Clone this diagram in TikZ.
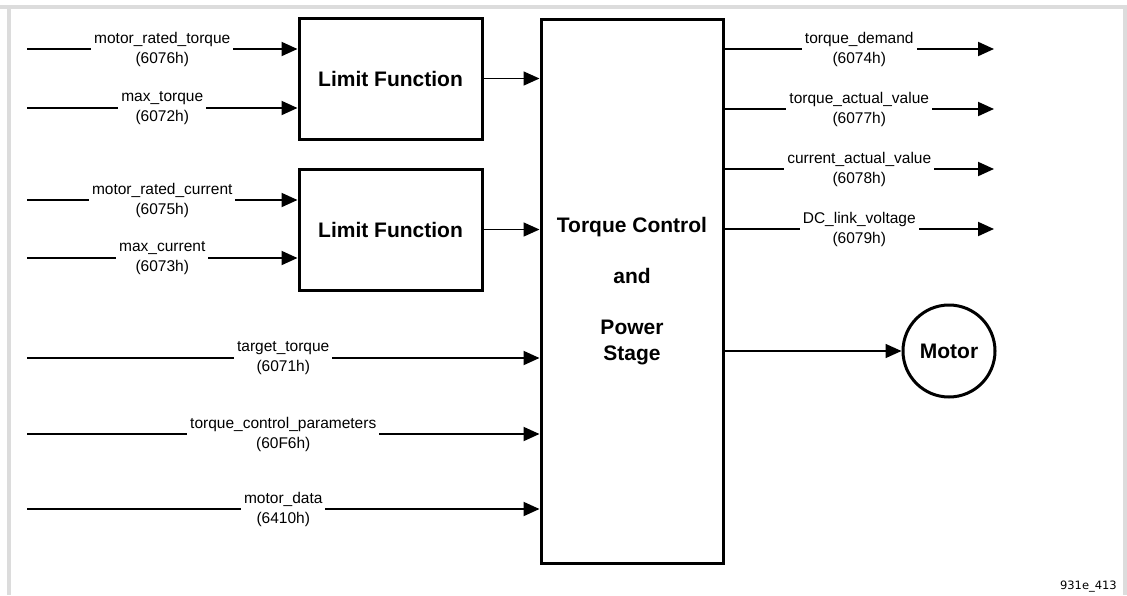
\documentclass[tikz,border=0pt]{standalone}
\usepackage{fontspec}
\setmainfont{Liberation Sans}
\newfontfamily\tagfont{DejaVu Sans}
\usetikzlibrary{arrows.meta}
\definecolor{framegray}{HTML}{DCDCDC}
\tikzset{
  sig/.style={line width=2pt, -{Triangle[length=16pt,width=14pt]}},
  sig2/.style={line width=1.6pt, -{Triangle[length=16pt,width=14pt]}},
  lbl/.style={fill=white, inner xsep=3pt, inner ysep=1pt, align=center,
    font=\fontsize{15.5}{20}\selectfont},
  fbox/.style={draw, line width=3pt, minimum width=183pt, minimum height=121pt,
    inner sep=0pt, align=center, font=\fontsize{21}{25.5}\selectfont\bfseries},
  bigbox/.style={draw, line width=3pt, minimum width=182pt, minimum height=544pt,
    inner sep=0pt, align=center, font=\fontsize{21}{25.5}\selectfont\bfseries},
  motorc/.style={draw, circle, line width=3pt, minimum size=92pt, inner sep=0pt,
    font=\fontsize{21}{25.5}\selectfont\bfseries}
}
\begin{document}
\begin{tikzpicture}[x=1pt,y=-1pt]
\useasboundingbox (0,0) rectangle (1127,595);
\fill[white] (0,0) rectangle (1127,595);
\fill[framegray] (0,5) rectangle (1127,9);
\fill[framegray] (7,9) rectangle (11,595);
\fill[framegray] (1123,9) rectangle (1127,595);

\node[fbox] (lf1) at (390.5,78.5) {Limit Function};
\node[fbox] (lf2) at (390.5,229.5) {Limit Function};
\node[bigbox] (big) at (632,291) {Torque Control\\[25.5pt]and\\[25.5pt]Power\\Stage};
\node[motorc] (motor) at (949,351) {Motor};

% inputs to limit functions
\coordinate (i1) at (27,49);
\coordinate (i2) at (27,108);
\coordinate (i3) at (27,200);
\coordinate (i4) at (27,258);
\draw[sig] (i1) -- node[lbl] {motor\_rated\_torque\\(6076h)} (i1 -| lf1.west);
\draw[sig] (i2) -- node[lbl] {max\_torque\\(6072h)} (i2 -| lf1.west);
\draw[sig] (i3) -- node[lbl] {motor\_rated\_current\\(6075h)} (i3 -| lf2.west);
\draw[sig] (i4) -- node[lbl] {max\_current\\(6073h)} (i4 -| lf2.west);

% limit functions to big box
\draw[sig2] (lf1.east) -- (lf1.east -| big.west);
\draw[sig2] (lf2.east) -- (lf2.east -| big.west);

% direct inputs
\coordinate (i5) at (27,358);
\coordinate (i6) at (27,434);
\coordinate (i7) at (27,509);
\draw[sig] (i5) -- node[lbl] {target\_torque\\(6071h)} (i5 -| big.west);
\draw[sig] (i6) -- node[lbl] {torque\_control\_parameters\\(60F6h)} (i6 -| big.west);
\draw[sig] (i7) -- node[lbl] {motor\_data\\(6410h)} (i7 -| big.west);

% outputs
\coordinate (o1) at (994,49);
\coordinate (o2) at (994,109);
\coordinate (o3) at (994,169);
\coordinate (o4) at (994,229);
\draw[sig] (o1 -| big.east) -- node[lbl] {torque\_demand\\(6074h)} (o1);
\draw[sig] (o2 -| big.east) -- node[lbl] {torque\_actual\_value\\(6077h)} (o2);
\draw[sig] (o3 -| big.east) -- node[lbl] {current\_actual\_value\\(6078h)} (o3);
\draw[sig] (o4 -| big.east) -- node[lbl] {DC\_link\_voltage\\(6079h)} (o4);

% to motor
\draw[sig2] (big.east |- motor.west) -- (motor.west);

\node[anchor=base east, font=\tagfont\fontsize{11.5}{14}\selectfont, inner sep=0pt] (tag) at (1117,589) {931e\_413};
\end{tikzpicture}
\end{document}
